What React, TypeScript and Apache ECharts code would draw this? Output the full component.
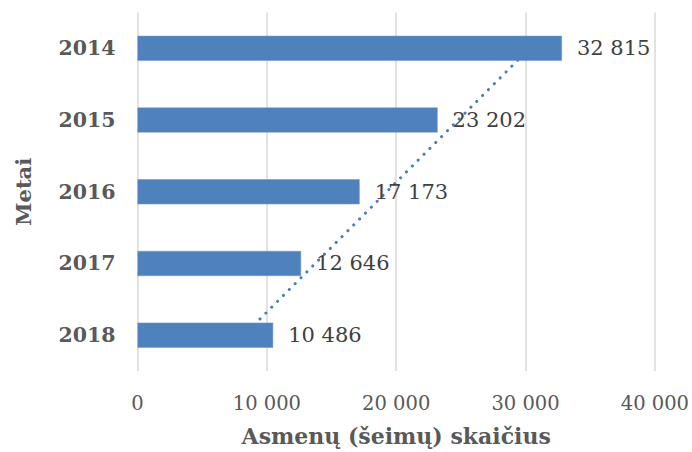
import React, { useEffect, useRef } from "react";
import * as echarts from "echarts";

// Years shown top to bottom
const years = ["2014", "2015", "2016", "2017", "2018"];
// Number of persons (families) per year
const persons = [32815, 23202, 17173, 12646, 10486];
// Linear trend values at each year
const trend = [30307, 24786, 19264, 13743, 8222];
// Value axis range
const axisMin = 0;
const axisMax = 40000;
const axisStep = 10000;

const fmt = (v: number) => String(Math.round(v)).replace(/\B(?=(\d{3})+(?!\d))/g, " ");

const serif = "DejaVu Serif";

export default function App() {
  const ref = useRef<HTMLDivElement>(null);

  useEffect(() => {
    if (!ref.current) return;
    const chart = echarts.init(ref.current, null, { renderer: "svg" });
    chart.setOption({
      animation: false,
      backgroundColor: "#ffffff",
      grid: { left: 137.5, right: 36.5, top: 12.5, bottom: 79.5, containLabel: false },
      xAxis: {
        type: "value",
        min: axisMin,
        max: axisMax,
        interval: axisStep,
        name: "Asmenų (šeimų) skaičius",
        nameLocation: "middle",
        nameGap: 54,
        nameTextStyle: { fontFamily: serif, fontWeight: "bold", fontSize: 22, color: "#595959" },
        axisLine: { show: false },
        axisTick: { show: false },
        axisLabel: {
          margin: 22,
          fontFamily: serif,
          fontSize: 19.5,
          color: "#595959",
          formatter: (v: number) => fmt(v),
        },
        splitLine: { show: true, lineStyle: { color: "#d9d9d9", width: 1.5 } },
      },
      yAxis: {
        type: "category",
        inverse: true,
        data: years,
        name: "Metai",
        nameLocation: "middle",
        nameRotate: 90,
        nameGap: 104,
        nameTextStyle: { fontFamily: serif, fontWeight: "bold", fontSize: 21, color: "#595959" },
        axisLine: { show: false },
        axisTick: { show: false },
        axisLabel: {
          margin: 22,
          fontFamily: serif,
          fontWeight: "bold",
          fontSize: 20.5,
          color: "#595959",
        },
        splitLine: { show: false },
      },
      series: [
        {
          type: "line",
          data: trend.map((v, i) => [v, years[i]]),
          symbol: "none",
          z: 1,
          lineStyle: { color: "#4a7ebb", width: 3, type: [0.1, 8.2], cap: "round" },
          silent: true,
        },
        {
          type: "bar",
          data: persons.map((v, i) => [v, years[i]]),
          barWidth: 25,
          z: 2,
          itemStyle: { color: "#4f81bd", borderColor: "#6a94c8", borderWidth: 0.5 },
          label: {
            show: true,
            position: "right",
            distance: 15,
            fontFamily: serif,
            fontSize: 21,
            color: "#404040",
            formatter: (p: any) => fmt(p.value[0]),
          },
        },
      ],
    });
    return () => chart.dispose();
  }, []);

  return (
    <div
      ref={ref}
      style={{ position: "fixed", left: 0, top: 0, width: 692, height: 452, background: "#fff" }}
    />
  );
}
